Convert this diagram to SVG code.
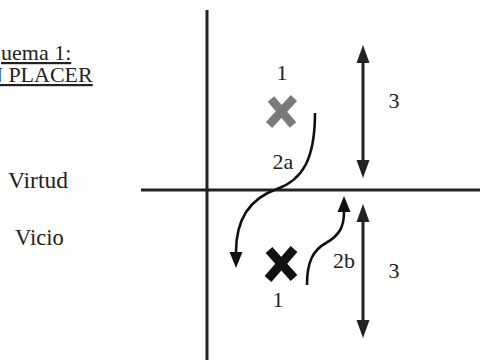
<svg xmlns="http://www.w3.org/2000/svg" width="480" height="360" viewBox="0 0 480 360">
<style>
text{font-family:"Liberation Serif","Times New Roman",serif;font-size:22px;fill:#222}
.ax{stroke:#222;stroke-width:3;fill:none}
.ar{stroke:#222;stroke-width:3;fill:none}
.cv{stroke:#111;stroke-width:2.6;fill:none}
</style>
<defs>
<marker id="ah" viewBox="0 -7 18 14" markerUnits="userSpaceOnUse" markerWidth="18" markerHeight="14" refX="0" refY="0" orient="auto-start-reverse">
<path d="M0,-6.5 L18,0 L0,6.5 Z" fill="#222"/>
</marker>
<marker id="ah2" viewBox="0 -7 16 14" markerUnits="userSpaceOnUse" markerWidth="16" markerHeight="14" refX="0" refY="0" orient="auto">
<path d="M0,-6.5 L16,0 L0,6.5 Z" fill="#111"/>
</marker>
</defs>
<g id="title">
<text x="1" y="60" text-decoration="underline">uema 1:</text>
<text x="-13" y="82" text-decoration="underline">N PLACER</text>
</g>
<g id="virtud"><text x="8" y="188" style="font-size:23.5px">Virtud</text></g>
<g id="vicio"><text x="15" y="245" style="font-size:22.5px">Vicio</text></g>
<g id="axes">
<line class="ax" x1="207" y1="10" x2="207" y2="360"/>
<line class="ax" x1="141" y1="190" x2="480" y2="190"/>
</g>
<g id="x-gray">
<line x1="271" y1="99" x2="293" y2="125" stroke="#7a7a7a" stroke-width="8.5"/>
<line x1="294" y1="98" x2="269" y2="125" stroke="#7a7a7a" stroke-width="8.5"/>
<text x="282" y="80" text-anchor="middle">1</text>
</g>
<g id="x-black">
<line x1="269" y1="250" x2="294" y2="278" stroke="#111" stroke-width="9"/>
<line x1="294" y1="249" x2="268" y2="279" stroke="#111" stroke-width="9"/>
<text x="278" y="307" text-anchor="middle">1</text>
</g>
<g id="labels">
<text x="283" y="169" text-anchor="middle">2a</text>
<text x="344" y="268" text-anchor="middle">2b</text>
<text x="394" y="108" text-anchor="middle">3</text>
<text x="394" y="278" text-anchor="middle">3</text>
</g>
<g id="connectors">
<line class="ar" x1="363" y1="63" x2="363" y2="160" marker-start="url(#ah)" marker-end="url(#ah)"/>
<line class="ar" x1="363" y1="222" x2="363" y2="320" marker-start="url(#ah)" marker-end="url(#ah)"/>
<path class="cv" d="M315,113 C315,160 302,180 277,189 C248,199 236,222 236,252" marker-end="url(#ah2)"/>
<path class="cv" d="M307,285 C307,262 313,250 326,243 C340,235 344,226 344,212" marker-end="url(#ah2)"/>
</g>
</svg>
